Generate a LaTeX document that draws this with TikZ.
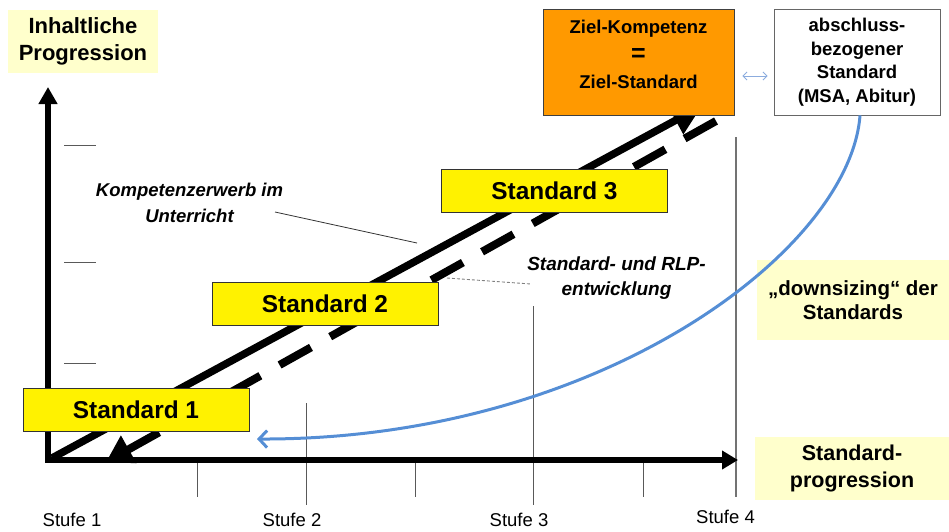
\documentclass[tikz,border=0pt]{standalone}
\usepackage{fontspec}
\setmainfont{Liberation Sans}
\usepackage{tikz}
\usetikzlibrary{arrows.meta}

\definecolor{paleyellow}{RGB}{255,255,204}
\definecolor{zielorange}{RGB}{255,153,0}
\definecolor{curveblue}{RGB}{85,142,213}
\definecolor{lightblue}{RGB}{140,172,222}

\begin{document}
\begin{tikzpicture}[x=1pt,y=-1pt,
  stdbox/.style={rectangle, fill=yellow, draw=black!80, line width=0.8pt, inner sep=0pt,
    minimum width=226pt, minimum height=43pt, font=\fontsize{24.4}{28}\selectfont\bfseries},
  notebox/.style={rectangle, fill=paleyellow, inner sep=0pt, align=center},
  bigbox/.style={rectangle, draw=black!75, line width=0.8pt, inner sep=0pt, minimum height=106pt},
  remark/.style={align=center, inner sep=0pt, font=\fontsize{18.5}{26}\selectfont\bfseries\itshape},
  stufe/.style={inner sep=0pt, font=\fontsize{18.5}{22}\selectfont},
  tickline/.style={black!65, line width=0.9pt},
  axis/.style={line width=5.5pt}
]

 \useasboundingbox (0,0) rectangle (949,531);

 % ticks on the axes
 \draw[tickline] (64,145) -- (96,145);
 \draw[tickline] (64,262) -- (96,262);
 \draw[tickline] (64,363) -- (96,363);

 \draw[tickline] (197,460) -- (197,497);
 \draw[tickline] (306,403) -- (306,505);
 \draw[tickline] (415,460) -- (415,497);
 \draw[tickline] (533,306) -- (533,505);
 \draw[tickline] (643,460) -- (643,497);
 \draw[black!55, line width=1.8pt] (736,137) -- (736,497);

 % progression arrows
 \coordinate (O)      at (48,460);
 \coordinate (ytop)   at (48,87);
 \coordinate (xend)   at (738,460);
 \coordinate (kstart) at (52,458);
 \coordinate (kend)   at (702,106);
 \coordinate (sstart) at (716,121);
 \coordinate (send)   at (106,462);

 \draw[line width=8pt, dash pattern=on 36pt off 22pt, -{Triangle[length=26pt,width=30pt]}] (sstart) -- (send);
 \draw[line width=7.5pt, -{Triangle[length=30pt,width=30pt]}] (kstart) -- (kend);

 % axes
 \draw[axis, {Triangle[length=17pt,width=18pt]}-{Triangle[length=16pt,width=18pt]}] (ytop) -- (O) -- (xend);

 % boxes
 \node[stdbox] (std1) at (136,409.5) {Standard 1};
 \node[stdbox] (std2) at (325,304)   {Standard 2};
 \node[stdbox] (std3) at (554.5,190.5) {Standard 3};

 \node[bigbox, fill=zielorange, minimum width=191pt] (ziel) at (638.5,62) {};
 \node[align=center, inner sep=0pt, font=\fontsize{18.5}{27.5}\selectfont\bfseries] (zieltext) at (638.5,54.5)
   {Ziel-Kompetenz\\{\fontsize{25}{27.5}\selectfont =}\\Ziel-Standard};
 \node[bigbox, fill=white, draw=black!60, minimum width=166pt, align=center,
   font=\fontsize{18.5}{23.5}\selectfont\bfseries] (abschl) at (857,62)
   {abschluss-\\bezogener\\Standard\\(MSA, Abitur)};

 \node[notebox, minimum width=150pt, minimum height=63pt, font=\fontsize{22}{27}\selectfont\bfseries]
   (inhalt) at (83,41.5) {Inhaltliche\\Progression};
 \node[notebox, minimum width=192pt, minimum height=80pt, font=\fontsize{20.5}{24.5}\selectfont\bfseries]
   (downs) at (853,300) {„downsizing“ der\\Standards};
 \node[notebox, minimum width=194pt, minimum height=63pt, font=\fontsize{21.5}{27}\selectfont\bfseries]
   (stdprog) at (852,468.5) {Standard-\\progression};

 \draw[lightblue, line width=0.9pt, {Straight Barb[length=4pt,width=8pt]}-{Straight Barb[length=4pt,width=8pt]},
   shorten <=8pt, shorten >=6pt] ([yshift=-14pt]ziel.east) -- ([yshift=-14pt]abschl.west);

 % remarks
 \node[remark] (kompetenz) at (189.5,203) {Kompetenzerwerb im\\Unterricht};
 \node[remark, font=\fontsize{19}{25}\selectfont\bfseries\itshape] (rlp) at (616.5,278)
   {Standard- und RLP-\\entwicklung};
 \coordinate (ktail) at (275,212);
 \coordinate (khead) at (417,243);
 \draw[black!80, line width=0.8pt] (ktail) -- (khead);
 \coordinate (rtail) at (447,278);
 \coordinate (rhead) at (531,284);
 \draw[black!50, line width=0.9pt, dash pattern=on 3pt off 2pt] (rtail) -- (rhead);

 % stufen
 \node[stufe] (stufe1) at (72,520)  {Stufe 1};
 \node[stufe] (stufe2) at (292,520) {Stufe 2};
 \node[stufe] (stufe3) at (519,520) {Stufe 3};
 \node[stufe] (stufe4) at (725.5,517) {Stufe 4};

 % downsizing curve
 \coordinate (downend) at (257,439);
 \draw[curveblue, line width=3pt, -{Straight Barb[length=8pt,width=17pt]}]
   ([xshift=3pt]abschl.south) .. controls (850,250) and (600,440) .. (downend);

\end{tikzpicture}
\end{document}
